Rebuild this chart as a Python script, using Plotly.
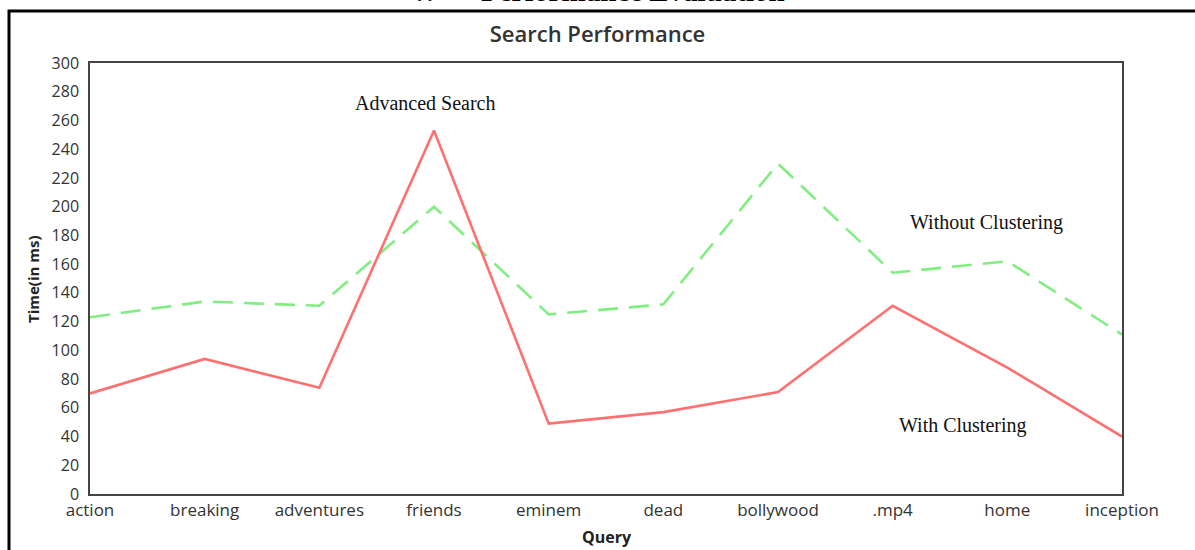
import plotly.graph_objects as go

queries = ["action", "breaking", "adventures", "friends", "eminem", "dead",
           "bollywood", ".mp4", "home", "inception"]
with_clustering = [70, 94, 74, 253, 49, 57, 71, 131, 88, 40]
without_clustering = [123, 134, 131, 200, 125, 132, 230, 154, 162, 111]
y_ticks = list(range(0, 301, 20))

xs = list(range(len(queries)))

W, H = 1195, 550
L, R, T, B = 90, 73, 63, 56
pw, ph = W - L - R, H - T - B

def px_x(p):
    return (p - L) / pw

def px_y(p):
    return (H - B - p) / ph

fig = go.Figure()
fig.add_trace(go.Scatter(x=xs, y=without_clustering, mode="lines",
                         line=dict(color="rgb(128,238,128)", width=2.6, dash="20px,11px"),
                         name="Without Clustering", showlegend=False))
fig.add_trace(go.Scatter(x=xs, y=with_clustering, mode="lines",
                         line=dict(color="rgb(255,112,112)", width=2.6),
                         name="With Clustering", showlegend=False))

serif = dict(family="Liberation Serif, Times New Roman, serif", size=20, color="#111")
fig.add_annotation(x=2.93, y=272, text="Advanced Search", showarrow=False, font=serif)
fig.add_annotation(x=7.82, y=189, text="Without Clustering", showarrow=False, font=serif)
fig.add_annotation(x=7.61, y=48, text="With Clustering", showarrow=False, font=serif)

# cut-off section heading above the frame
head = dict(family="Liberation Serif, Times New Roman, serif", size=29, color="#000")
fig.add_annotation(xref="paper", yref="paper", x=px_x(421), y=px_y(9.5),
                   text="<b>V.</b>", showarrow=False, font=head,
                   xanchor="center", yanchor="bottom")
fig.add_annotation(xref="paper", yref="paper", x=px_x(633), y=px_y(9.5),
                   text="<b>Performance Evaluation</b>", showarrow=False, font=head,
                   xanchor="center", yanchor="bottom")

# axis titles
fig.add_annotation(xref="paper", yref="paper", x=px_x(607), y=px_y(537),
                   text="<b>Query</b>", showarrow=False,
                   font=dict(family="Open Sans, sans-serif", size=16, color="#222"),
                   xanchor="center", yanchor="middle")
fig.add_annotation(xref="paper", yref="paper", x=px_x(33), y=px_y(279),
                   text="<b>Time(in ms)</b>", showarrow=False, textangle=-90,
                   font=dict(family="Open Sans, sans-serif", size=15, color="#222"),
                   xanchor="center", yanchor="middle")

# outer frame
fig.add_shape(type="rect", xref="paper", yref="paper",
              x0=px_x(9), x1=px_x(1210), y0=px_y(570), y1=px_y(11),
              line=dict(color="black", width=3), layer="below")

fig.update_layout(
    width=W, height=H,
    margin=dict(l=L, r=R, t=T, b=B),
    paper_bgcolor="white", plot_bgcolor="white",
    title=dict(text="Search Performance", x=0.5, xanchor="center", y=1 - 34 / H, yanchor="middle",
               font=dict(family="Open Sans, sans-serif", size=22, color="#333", weight=600)),
    font=dict(family="Open Sans, sans-serif", size=16, color="#333"),
)
fig.update_xaxes(range=[0, 9], tickvals=xs, ticktext=queries, showgrid=False, zeroline=False,
                 showline=True, linecolor="#444", linewidth=1.5, mirror=True, ticks="",
                 automargin=False, tickfont=dict(size=17, color="#333"))
fig.update_yaxes(range=[0, 300], tickvals=y_ticks, showgrid=False, zeroline=False,
                 showline=True, linecolor="#444", linewidth=1.5, mirror=True, ticks="",
                 automargin=False, ticklabelstandoff=6,
                 tickfont=dict(size=16, color="#333"))

fig.write_html("out.html", config={"displayModeBar": False},
               post_script="document.body.style.margin='0';")
